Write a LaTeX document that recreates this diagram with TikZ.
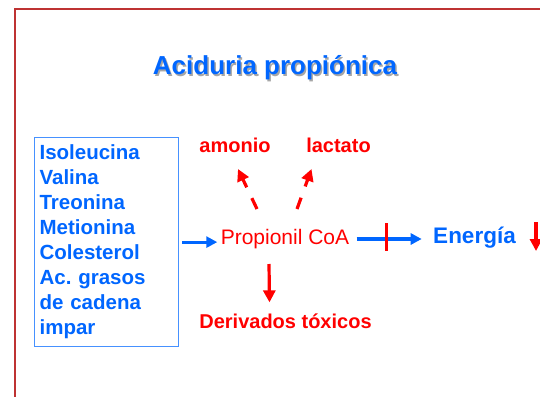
\documentclass[tikz,border=0pt]{standalone}
\usepackage{fontspec}
\setmainfont{Liberation Sans}
\usetikzlibrary{arrows.meta,positioning}
\definecolor{myblue}{RGB}{0,102,255}
\definecolor{boxblue}{RGB}{70,145,255}
\definecolor{myred}{RGB}{255,0,0}
\definecolor{framered}{RGB}{190,50,50}

\begin{document}
\begin{tikzpicture}[x=1pt,y=-1pt,
    redlbl/.style={font=\fontsize{20}{24}\selectfont\bfseries, text=myred, inner sep=2pt},
    bluearrow/.style={-{Triangle[width=11pt,length=11pt]}, myblue, line width=3.2pt},
    redarrow/.style={-{Triangle[width=12pt,length=12pt]}, myred, line width=3.2pt},
    dasharrow/.style={redarrow, dash pattern=on 12pt off 12pt on 30pt}]
    \useasboundingbox (0,0) rectangle (540,396);
        % frame
    \draw[framered, line width=2.5pt] (15,402) -- (15,9) -- (546,9);
    
        % title
    \node[font=\fontsize{26}{30}\selectfont\bfseries, text=black!35] at (276.5,69.5) {Aciduria propiónica};
    \node[font=\fontsize{26}{30}\selectfont\bfseries, text=myblue] (title) at (275,68) {Aciduria propiónica};
    
        % sources
    \node[draw=boxblue, line width=1.2pt, anchor=north west, minimum width=144pt, minimum height=209pt,
          text width=134pt, align=left, inner sep=5pt, text=myblue,
          font=\fontsize{20.5}{25}\selectfont\bfseries] (src) at (34,137)
          {Isoleucina\\Valina\\Treonina\\Metionina\\Colesterol\\Ac.\ grasos\\de cadena\\impar};
    
        % pathway
    \node[font=\fontsize{21}{25}\selectfont, text=myred] (prop) at (285,239) {Propionil CoA};
    \node[font=\fontsize{22.5}{27}\selectfont\bfseries, text=myblue] (energia) at (474.5,238) {Energía};
    \node[redlbl] (amonio) at (235,145) {amonio};
    \node[redlbl] (lactato) at (338.5,145) {lactato};
    \node[redlbl] (deriv) at (285.5,321) {Derivados tóxicos};
    
    \draw[bluearrow] ([xshift=3pt]src.east) -- (src.east -| prop.west);
    \draw[bluearrow, shorten <=4pt, shorten >=8pt] (prop.east) -- (prop.east -| energia.west);
    \coordinate (block) at (386,237);
    \draw[myred, line width=3pt] (block) +(0,-14) -- +(0,14);
    \draw[redarrow] ([xshift=-16pt,yshift=-25pt]prop.center) -- ([xshift=-16pt,yshift=9pt]deriv.north);
    \draw[dasharrow] ([shift={(-28,-30)}]prop.center) -- ([shift={(3,24)}]amonio.center);
    \draw[dasharrow] ([shift={(12,-30)}]prop.center) -- ([shift={(-27,24)}]lactato.center);
    \coordinate (drop) at (536,222);
    \draw[redarrow] (drop) -- ++(0,29);
\end{tikzpicture}
\end{document}
